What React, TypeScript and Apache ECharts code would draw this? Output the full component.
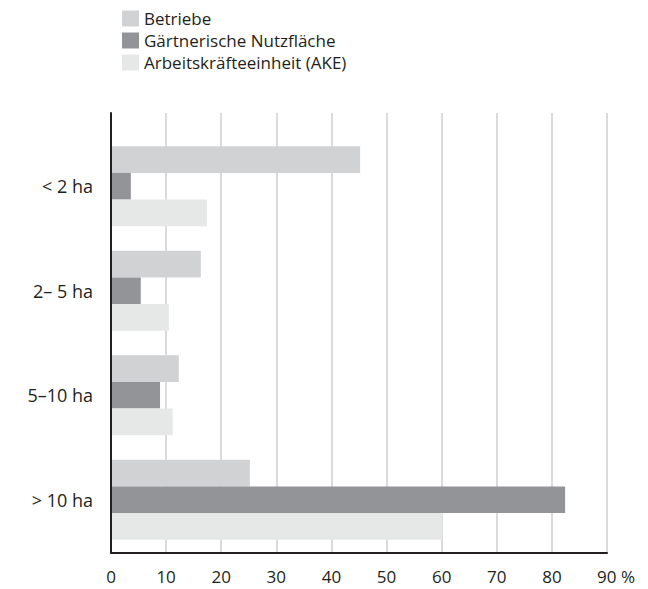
import React, { useEffect, useRef } from "react";
import * as echarts from "echarts";

const categories = ["< 2 ha", "2– 5 ha", "5–10 ha", "> 10 ha"];
const betriebe = [45.2, 16.3, 12.3, 25.2];
const nutzflaeche = [3.6, 5.4, 8.9, 82.4];
const ake = [17.4, 10.5, 11.2, 60.1];
const seriesNames = ["Betriebe", "Gärtnerische Nutzfläche", "Arbeitskräfteeinheit (AKE)"];
const colors = ["#d1d2d4", "#939498", "#e6e8e7"];

const FONT = "'Open Sans', 'Noto Sans', sans-serif";
const TEXT = "#231f20";

export default function App() {
  const ref = useRef<HTMLDivElement>(null);
  useEffect(() => {
    if (!ref.current) return;
    const chart = echarts.init(ref.current, undefined, { renderer: "svg" });
    const values = [betriebe, nutzflaeche, ake];
    chart.setOption({
      animation: false,
      textStyle: { fontFamily: FONT, color: TEXT },
      legend: {
        orient: "vertical",
        left: 117,
        top: 5,
        itemWidth: 17,
        itemHeight: 16,
        itemGap: 5,
        icon: "rect",
        textStyle: { fontSize: 17, lineHeight: 17, color: TEXT, fontFamily: FONT },
        data: seriesNames,
      },
      grid: [
        { left: 111, right: 41, top: 113, bottom: 36 },
        { left: 111, right: 41, top: 134, bottom: 37 },
      ],
      xAxis: [
        {
          gridIndex: 0,
          type: "value",
          min: 0,
          max: 90,
          interval: 10,
          axisLine: { show: true, lineStyle: { color: TEXT, width: 2 } },
          axisTick: { show: false },
          splitLine: { show: true, lineStyle: { color: "#cfcfcf", width: 1.5 } },
          axisLabel: {
            fontSize: 17,
            color: TEXT,
            fontFamily: FONT,
            margin: 15,
            formatter: (v: number) => (v === 90 ? "{p|90 %}" : String(v)),
            rich: { p: { fontSize: 17, color: TEXT, fontFamily: FONT, padding: [0, 0, 0, 18] } },
          },
        },
        {
          gridIndex: 1,
          type: "value",
          min: 0,
          max: 90,
          interval: 10,
          show: false,
          splitLine: { show: false },
        },
      ],
      yAxis: [
        {
          gridIndex: 0,
          type: "category",
          data: [""],
          z: 5,
          axisLine: { show: true, lineStyle: { color: TEXT, width: 2 } },
          axisTick: { show: false },
          axisLabel: { show: false },
          splitLine: { show: false },
        },
        {
          gridIndex: 1,
          type: "category",
          inverse: true,
          data: categories,
          axisLine: { show: false },
          axisTick: { show: false },
          axisLabel: { fontSize: 18, color: TEXT, fontFamily: FONT, margin: 18 },
        },
      ],
      series: seriesNames.map((name, i) => ({
        name,
        type: "bar",
        xAxisIndex: 1,
        yAxisIndex: 1,
        data: values[i],
        barWidth: 26.7,
        barGap: "0%",
        itemStyle: { color: colors[i] },
      })),
    });
    return () => chart.dispose();
  }, []);
  return <div ref={ref} style={{ width: 648, height: 589, position: "absolute", left: 0, top: 0 }} />;
}
